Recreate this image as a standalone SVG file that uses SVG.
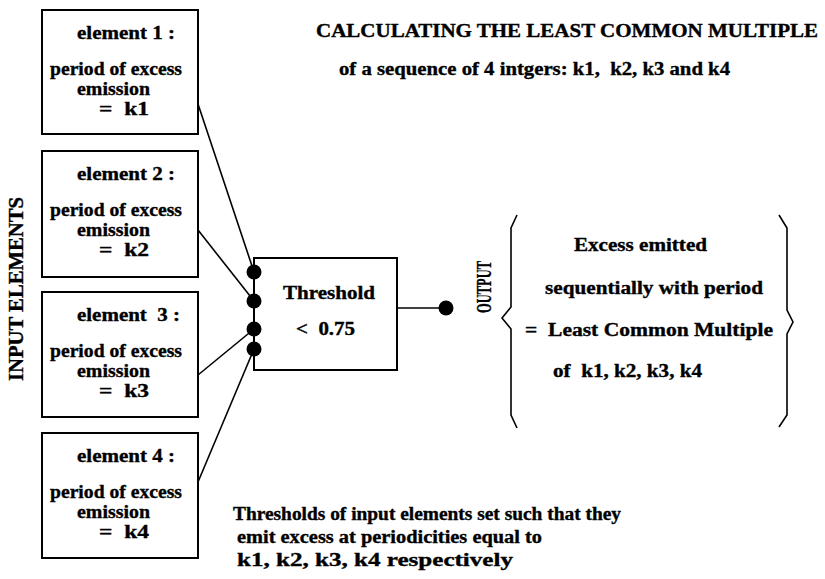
<svg xmlns="http://www.w3.org/2000/svg" width="825" height="579" viewBox="0 0 825 579" font-family="Liberation Serif, DejaVu Serif, serif">
<style>
text{font-family:'Liberation Serif','DejaVu Serif',serif;font-weight:bold;font-size:18px;fill:#000;stroke:#000;stroke-width:0.35}
.box{fill:#fff;stroke:#000;stroke-width:2}
.ln{fill:none;stroke:#000;stroke-width:1.6}
.dot{fill:#000}
</style>
<rect width="825" height="579" fill="#fff"/>
<g id="title">
<text x="316" y="37" textLength="502" lengthAdjust="spacingAndGlyphs">CALCULATING THE LEAST COMMON MULTIPLE</text>
<text x="339" y="75" textLength="391" lengthAdjust="spacingAndGlyphs" xml:space="preserve">of a sequence of 4 intgers: k1,  k2, k3 and k4</text>
</g>
<g id="input-label">
<text transform="translate(23,289) rotate(-90)" text-anchor="middle" style="font-size:20px" textLength="184" lengthAdjust="spacingAndGlyphs">INPUT ELEMENTS</text>
</g>
<g id="connectors">
<line class="ln" x1="198" y1="104" x2="254" y2="272"/>
<line class="ln" x1="198" y1="230" x2="254" y2="301"/>
<line class="ln" x1="198" y1="375" x2="254" y2="329"/>
<line class="ln" x1="198" y1="482" x2="254" y2="349"/>
<line class="ln" x1="397" y1="308" x2="446" y2="308"/>
</g>
<g id="element1">
<rect class="box" x="42" y="10" width="156" height="124"/>
<text x="77" y="39" textLength="98" lengthAdjust="spacingAndGlyphs">element 1 :</text>
<text x="50" y="75" textLength="132" lengthAdjust="spacingAndGlyphs">period of excess</text>
<text x="77" y="95" textLength="73" lengthAdjust="spacingAndGlyphs">emission</text>
<text x="99" y="115" textLength="50" lengthAdjust="spacingAndGlyphs" xml:space="preserve">=  k1</text>
</g>
<g id="element2">
<rect class="box" x="42" y="151" width="156" height="126"/>
<text x="77" y="180" textLength="98" lengthAdjust="spacingAndGlyphs">element 2 :</text>
<text x="50" y="216" textLength="132" lengthAdjust="spacingAndGlyphs">period of excess</text>
<text x="77" y="236" textLength="73" lengthAdjust="spacingAndGlyphs">emission</text>
<text x="99" y="256" textLength="50" lengthAdjust="spacingAndGlyphs" xml:space="preserve">=  k2</text>
</g>
<g id="element3">
<rect class="box" x="42" y="292" width="156" height="125"/>
<text x="77" y="321" textLength="103" lengthAdjust="spacingAndGlyphs" xml:space="preserve">element  3 :</text>
<text x="50" y="357" textLength="132" lengthAdjust="spacingAndGlyphs">period of excess</text>
<text x="77" y="377" textLength="73" lengthAdjust="spacingAndGlyphs">emission</text>
<text x="99" y="397" textLength="50" lengthAdjust="spacingAndGlyphs" xml:space="preserve">=  k3</text>
</g>
<g id="element4">
<rect class="box" x="42" y="433" width="156" height="125"/>
<text x="77" y="462" textLength="98" lengthAdjust="spacingAndGlyphs">element 4 :</text>
<text x="50" y="498" textLength="132" lengthAdjust="spacingAndGlyphs">period of excess</text>
<text x="77" y="518" textLength="73" lengthAdjust="spacingAndGlyphs">emission</text>
<text x="99" y="538" textLength="50" lengthAdjust="spacingAndGlyphs" xml:space="preserve">=  k4</text>
</g>
<g id="threshold">
<rect class="box" x="254" y="258" width="143" height="112"/>
<circle class="dot" cx="254" cy="272" r="7.5"/>
<circle class="dot" cx="254" cy="301" r="7.5"/>
<circle class="dot" cx="254" cy="329" r="7.5"/>
<circle class="dot" cx="254" cy="349" r="7.5"/>
<text x="283" y="299" textLength="92" lengthAdjust="spacingAndGlyphs">Threshold</text>
<text x="296" y="335" textLength="59" lengthAdjust="spacingAndGlyphs" xml:space="preserve">&lt;  0.75</text>
</g>
<g id="output-dot">
<circle class="dot" cx="446" cy="308" r="7.5"/>
</g>
<g id="output">
<text transform="translate(491,287) rotate(-90)" text-anchor="middle" style="font-size:22px" textLength="52" lengthAdjust="spacingAndGlyphs">OUTPUT</text>
<path class="ln" d="M517,215 L511,228 L511,307 L502,318 L511,329 L511,415 L517,428"/>
<path class="ln" d="M779,215 L787,228 L787,310 L793,322 L787,334 L787,415 L779,427"/>
<text x="574" y="251" textLength="133" lengthAdjust="spacingAndGlyphs">Excess emitted</text>
<text x="545" y="294" textLength="218" lengthAdjust="spacingAndGlyphs">sequentially with period</text>
<text x="525" y="336" textLength="248" lengthAdjust="spacingAndGlyphs" xml:space="preserve">=  Least Common Multiple</text>
<text x="553" y="377" textLength="149" lengthAdjust="spacingAndGlyphs" xml:space="preserve">of  k1, k2, k3, k4</text>
</g>
<g id="note">
<text x="233" y="520" textLength="388" lengthAdjust="spacingAndGlyphs">Thresholds of input elements set such that they</text>
<text x="237" y="543" textLength="305" lengthAdjust="spacingAndGlyphs">emit excess at periodicities equal to</text>
<text x="237" y="566" textLength="276" lengthAdjust="spacingAndGlyphs">k1, k2, k3, k4 respectively</text>
</g>
</svg>
